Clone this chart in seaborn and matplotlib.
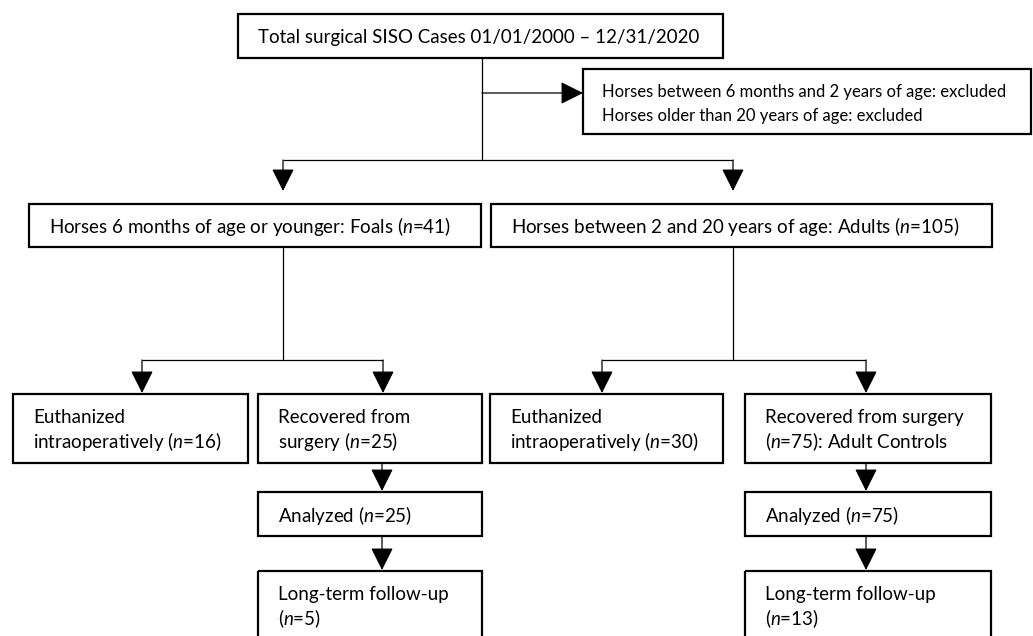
import matplotlib.pyplot as plt
import seaborn as sns
from matplotlib.patches import Rectangle

# === Flow data ===
total_label = "Total surgical SISO Cases 01/01/2000 \u2013 12/31/2020"
excluded_labels = [
    "Horses between 6 months and 2 years of age: excluded",
    "Horses older than 20 years of age: excluded",
]
group_labels = [
    "Horses 6 months of age or younger: Foals",
    "Horses between 2 and 20 years of age: Adults",
]
group_n = [41, 105]
euthanized_n = [16, 30]
recovered_n = [25, 75]
analyzed_n = [25, 75]
followup_n = [5, 13]

sns.set_style("white")
plt.rcParams["font.family"] = ["Lato", "DejaVu Sans"]
plt.rcParams["mathtext.fontset"] = "custom"
plt.rcParams["mathtext.rm"] = "Lato"
plt.rcParams["mathtext.it"] = "Lato:italic"

FS = 13.5
BOX_LW = 1.6
LINE_LW = 0.9

fig = plt.figure(figsize=(10.33, 6.36), dpi=100)
ax = fig.add_axes([0, 0, 1, 1])
ax.set_xlim(0, 1033)
ax.set_ylim(636, 0)
ax.axis("off")


def nlab(n):
    return f"($n$={n})"


def box(x0, y0, x1, y1, lines, baselines, pad=20, fs=FS):
    ax.add_patch(Rectangle((x0, y0), x1 - x0, y1 - y0, fill=False,
                           edgecolor="black", linewidth=BOX_LW))
    for txt, yb in zip(lines, baselines):
        ax.text(x0 + pad, yb, txt, fontsize=fs, va="baseline", ha="left",
                color="black")


def seg(xs, ys):
    ax.plot(xs, ys, color="black", linewidth=LINE_LW, solid_capstyle="butt")


def arrow(x0, y0, x1, y1):
    ax.annotate("", xy=(x1, y1), xytext=(x0, y0),
                arrowprops=dict(arrowstyle="-|>,head_length=1.0,head_width=0.5",
                                color="black", lw=LINE_LW, shrinkA=0, shrinkB=0,
                                mutation_scale=14))


# top box and exclusion
box(238, 14, 723, 58, [total_label], [43])
box(583, 69, 1031, 134, excluded_labels, [97, 121], pad=19, fs=12)
seg([482, 482], [58, 160])
arrow(482, 93, 583, 93)

# split into foals / adults
seg([283, 733], [160, 160])
arrow(283, 160, 283, 191)
arrow(733, 160, 733, 191)
box(29, 204, 481, 247, [f"{group_labels[0]} {nlab(group_n[0])}"], [233])
box(491, 204, 992, 247, [f"{group_labels[1]} {nlab(group_n[1])}"], [233])

# second split per group
split_x = [(283, 142, 383), (733, 602, 866)]
for mid, xl, xr in split_x:
    seg([mid, mid], [247, 360])
    seg([xl, xr], [360, 360])
    arrow(xl, 360, xl, 393)
    arrow(xr, 360, xr, 393)

# foals column
box(13, 394, 248, 463, ["Euthanized", f"intraoperatively {nlab(euthanized_n[0])}"], [423, 448])
box(258, 394, 482, 463, ["Recovered from", f"surgery {nlab(recovered_n[0])}"], [423, 448])
box(258, 492, 482, 536, [f"Analyzed {nlab(analyzed_n[0])}"], [522])
box(258, 571, 482, 660, ["Long-term follow-up", nlab(followup_n[0])], [600, 625])
arrow(382, 463, 382, 491)
arrow(382, 536, 382, 570)

# adults column
box(490, 394, 723, 463, ["Euthanized", f"intraoperatively {nlab(euthanized_n[1])}"], [423, 448])
box(745, 394, 991, 463, ["Recovered from surgery", f"{nlab(recovered_n[1])}: Adult Controls"], [423, 448])
box(745, 492, 991, 536, [f"Analyzed {nlab(analyzed_n[1])}"], [522])
box(745, 571, 991, 660, ["Long-term follow-up", nlab(followup_n[1])], [600, 625])
arrow(866, 463, 866, 491)
arrow(866, 536, 866, 570)

fig.savefig("out.png", dpi=100)
